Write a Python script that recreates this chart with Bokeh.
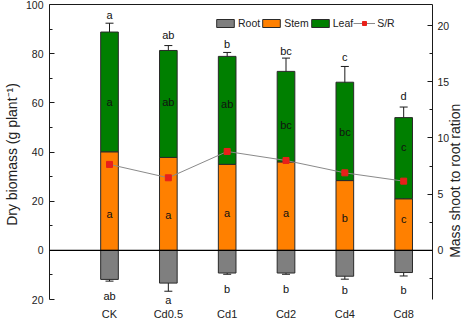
import math
from bokeh.plotting import figure
from bokeh.models import (ColumnDataSource, Range1d, LinearAxis, FixedTicker, Span,
                          Whisker, TeeHead, Legend, LegendItem)
from bokeh.core.properties import value
from bokeh.embed import file_html
from bokeh.resources import INLINE

categories = ["CK", "Cd0.5", "Cd1", "Cd2", "Cd4", "Cd8"]
root = [11.8, 13.3, 9.2, 9.2, 10.5, 9.0]
root_err = [0.7, 3.3, 0.5, 0.5, 1.2, 1.4]
stem = [40.1, 37.8, 35.0, 36.0, 28.4, 21.0]
stem_err = [5.0, 4.0, 3.0, 2.0, 4.0, 1.1]
leaf = [48.7, 43.5, 43.9, 36.8, 40.0, 33.0]
leaf_err = [3.6, 2.0, 1.6, 5.4, 6.4, 4.3]
sr = [7.65, 6.46, 8.8, 8.0, 6.9, 6.16]
sr_err = [1.2, 1.0, 0.3, 0.9, 1.5, 0.9]

top_letters = ["a", "ab", "b", "bc", "c", "d"]
leaf_letters = ["a", "ab", "ab", "bc", "bc", "c"]
stem_letters = ["a", "a", "a", "a", "b", "c"]
root_letters = ["ab", "a", "b", "b", "b", "b"]
top_letter_y = [95.9, 87.8, 84.1, 81.2, 78.8, 62.9]
leaf_letter_y = [60.4, 60.4, 59.6, 51.0, 48.2, 42.0]
stem_letter_y = [14.7, 14.3, 15.1, 15.1, 13.1, 12.7]
root_letter_y = [-18.4, -20.0, -15.5, -15.5, -15.9, -15.9]

FONT = "Liberation Sans"
x = list(range(len(categories)))
total = [s + l for s, l in zip(stem, leaf)]

src = ColumnDataSource(dict(
    x=x, root_neg=[-r for r in root], stem=stem, total=total,
    root_up=[-r + e for r, e in zip(root, root_err)],
    root_lo=[-r - e for r, e in zip(root, root_err)],
    stem_up=[s + e for s, e in zip(stem, stem_err)],
    stem_lo=[s - e for s, e in zip(stem, stem_err)],
    leaf_up=[t + e for t, e in zip(total, leaf_err)],
    leaf_lo=[t - e for t, e in zip(total, leaf_err)],
    sr=sr,
    sr_up=[v + e for v, e in zip(sr, sr_err)],
    sr_lo=[v - e for v, e in zip(sr, sr_err)],
))

ratio = 20.0 / 4.375  # left units per right unit
y_lo, y_hi = -22, 100

p = figure(width=474, height=322, output_backend="svg", toolbar_location=None,
           x_range=Range1d(-1.02, 5.49), y_range=Range1d(y_lo, y_hi),
           min_border_left=44, min_border_right=34, min_border_top=4, min_border_bottom=18)
p.outline_line_color = None
p.xgrid.visible = False
p.ygrid.visible = False
p.extra_y_ranges = {"sr": Range1d(y_lo / ratio, y_hi / ratio)}

W = 0.30
line_c = "#2a2a2a"
r_root = p.vbar(x="x", top=0, bottom="root_neg", width=W, source=src,
                fill_color="#7f7f7f", line_color=line_c, line_width=1)
r_stem = p.vbar(x="x", top="stem", bottom=0, width=W, source=src,
                fill_color="#FF8000", line_color=line_c, line_width=1)
r_leaf = p.vbar(x="x", top="total", bottom="stem", width=W, source=src,
                fill_color="#007F00", line_color=line_c, line_width=1)

for up, lo in [("root_up", "root_lo"), ("stem_up", "stem_lo"), ("leaf_up", "leaf_lo")]:
    w = Whisker(base="x", upper=up, lower=lo, source=src, dimension="height",
                line_color="#1a1a1a", line_width=1,
                upper_head=TeeHead(size=8, line_color="#1a1a1a", line_width=1),
                lower_head=TeeHead(size=8, line_color="#1a1a1a", line_width=1))
    p.add_layout(w)

p.add_layout(Span(location=0, dimension="width", line_color="black", line_width=1.2))

r_line = p.line(x="x", y="sr", source=src, y_range_name="sr", line_color="#8a8a8a", line_width=1)
ws = Whisker(base="x", upper="sr_up", lower="sr_lo", source=src, dimension="height",
             y_range_name="sr", line_color="#c0301e", line_width=1,
             upper_head=TeeHead(size=7, line_color="#c0301e", line_width=1),
             lower_head=TeeHead(size=7, line_color="#c0301e", line_width=1))
p.add_layout(ws)
r_pts = p.scatter(x="x", y="sr", source=src, y_range_name="sr", marker="square",
                  size=6, fill_color="#e8201a", line_color="#e8201a")

for letters, ys in [(top_letters, top_letter_y), (leaf_letters, leaf_letter_y),
                    (stem_letters, stem_letter_y), (root_letters, root_letter_y)]:
    p.text(x=x, y=ys, text=letters, text_align="center", text_baseline="middle",
           text_font=value(FONT), text_font_size="11px", text_color="#111111")

# left axis
la = p.yaxis[0]
la.ticker = FixedTicker(ticks=[-20, 0, 20, 40, 60, 80, 100],
                        minor_ticks=[-10, 10, 30, 50, 70, 90])
la.bounds = (-20, 100)
la.major_label_overrides = {-20: "20"}
la.axis_label = "Dry biomass (g plant\u207b\u00b9)"

ra = LinearAxis(y_range_name="sr",
                ticker=FixedTicker(ticks=[0, 5, 10, 15, 20],
                                   minor_ticks=[-2.5, 2.5, 7.5, 12.5, 17.5]),
                bounds=(-4.375, 21.875),
                axis_label="\u00a0" * 12 + "Mass shoot to root ration")
p.add_layout(ra, "right")

for ax in [la, ra]:
    ax.major_tick_in = 5
    ax.major_tick_out = 0
    ax.minor_tick_in = 3
    ax.minor_tick_out = 0
    ax.axis_line_color = "#1a1a1a"
    ax.major_tick_line_color = "#1a1a1a"
    ax.minor_tick_line_color = "#1a1a1a"
    ax.major_label_text_font = FONT
    ax.major_label_text_font_size = "10.5px"
    ax.major_label_text_color = "#222222"
    ax.axis_label_text_font = FONT
    ax.axis_label_text_font_size = "14px"
    ax.axis_label_text_font_style = "normal"
    ax.axis_label_text_color = "#222222"
la.major_label_standoff = 6
la.axis_label_standoff = 3
ra.major_label_standoff = 5
ra.axis_label_standoff = 3
ra.axis_label_text_align = "center"
ra.axis_label_text_baseline = "middle"
try:
    ra.axis_label_orientation = math.pi / 2
    ra.axis_label_align = "start"
except Exception:
    pass

xa = p.xaxis[0]
xa.ticker = FixedTicker(ticks=x)
xa.major_label_overrides = {i: c for i, c in enumerate(categories)}
xa.axis_line_color = None
xa.major_tick_line_color = None
xa.minor_tick_line_color = None
xa.major_tick_in = 0
xa.major_tick_out = 0
xa.minor_tick_in = 0
xa.minor_tick_out = 0
xa.major_label_text_font = FONT
xa.major_label_text_font_size = "11px"
xa.major_label_text_color = "#222222"
xa.major_label_standoff = 3

ta = LinearAxis(ticker=FixedTicker(ticks=[]), major_label_text_font_size="0px",
                major_tick_line_color=None, minor_tick_line_color=None,
                major_tick_in=0, major_tick_out=0, minor_tick_in=0, minor_tick_out=0,
                axis_line_color="#1a1a1a", major_label_standoff=0)
p.add_layout(ta, "above")

legend = Legend(items=[LegendItem(label="Root", renderers=[r_root]),
                       LegendItem(label="Stem", renderers=[r_stem]),
                       LegendItem(label="Leaf", renderers=[r_leaf]),
                       LegendItem(label="S/R", renderers=[r_line, r_pts])],
                orientation="horizontal", location=(165, 275),
                glyph_width=22, glyph_height=10, label_height=10, label_width=10,
                label_standoff=2, spacing=0, padding=0, margin=0,
                border_line_color=None, background_fill_alpha=0,
                label_text_font=FONT, label_text_font_size="10.5px",
                label_text_color="#222222")
p.add_layout(legend)

open("out.html", "w").write(file_html(p, INLINE))
